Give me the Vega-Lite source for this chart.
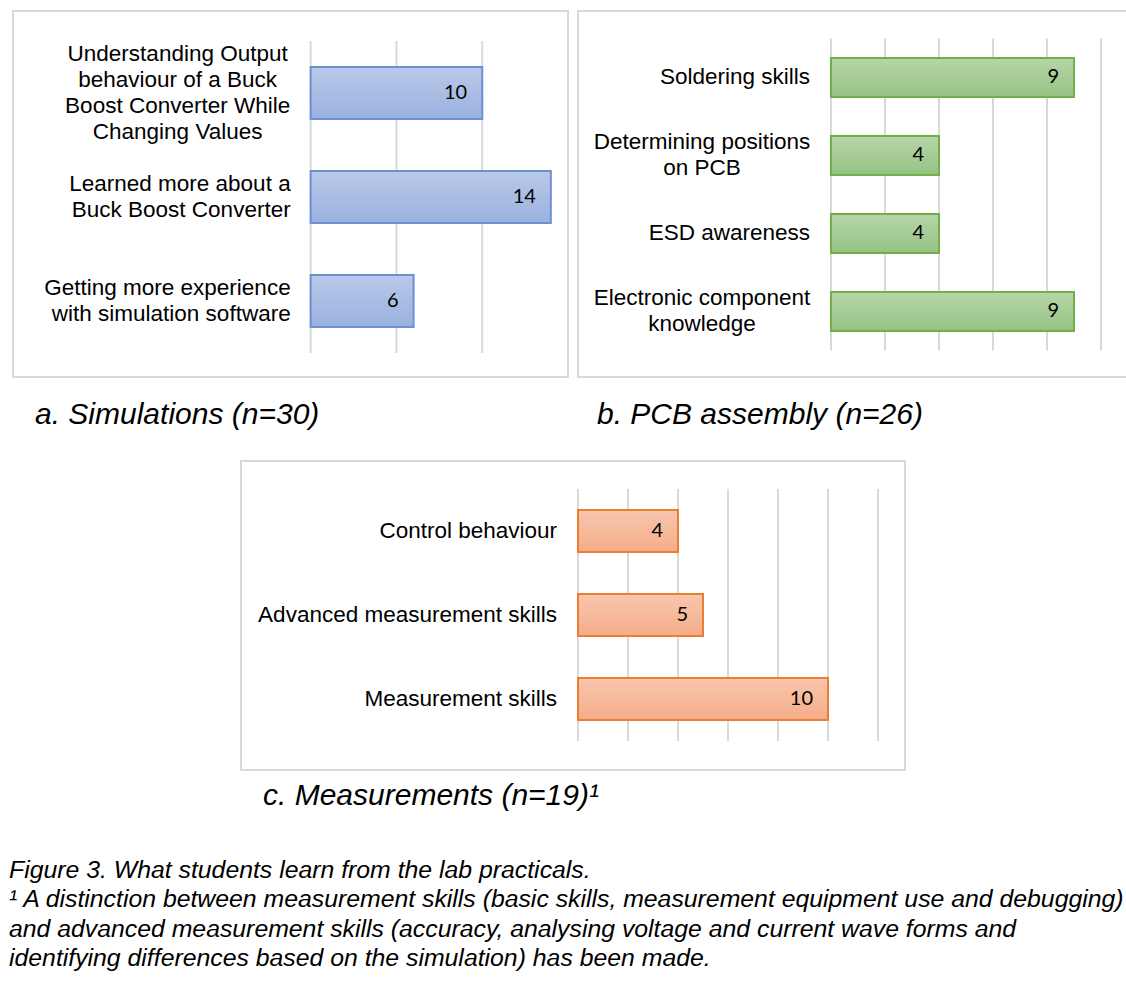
{
  "$schema": "https://vega.github.io/schema/vega-lite/v6.json",
  "padding": {"left": 9, "top": 10, "right": 0, "bottom": 6},
  "background": "white",
  "config": {
    "view": {"stroke": "#D9D9D9", "strokeWidth": 2},
    "font": "Liberation Sans",
    "title": {"color": "black", "fontWeight": "normal", "fontStyle": "italic", "font": "Liberation Sans"}
  },
  "title": {
    "text": [
      "Figure 3. What students learn from the lab practicals.",
      "¹ A distinction between measurement skills (basic skills, measurement equipment use and debugging)",
      "and advanced measurement skills (accuracy, analysing voltage and current wave forms and",
      "identifying differences based on the simulation) has been made."
    ],
    "orient": "bottom",
    "anchor": "start",
    "frame": "group",
    "baseline": "alphabetic",
    "offset": 66,
    "dx": -4,
    "fontSize": 24.8,
    "lineHeight": 29.3
  },
  "vconcat": [
    {
      "hconcat": [
        {
          "width": 555,
          "height": 366,
          "title": {"text": "a. Simulations (n=30)", "orient": "bottom", "anchor": "start", "frame": "group", "baseline": "alphabetic", "offset": 47, "dx": 22, "fontSize": 30},
          "data": {"values": [
            {"skill": "Understanding Output|behaviour of a Buck|Boost Converter While|Changing Values", "n": 10},
            {"skill": "Learned more about a|Buck Boost Converter", "n": 14},
            {"skill": "Getting more experience|with simulation software", "n": 6}
          ]},
          "encoding": {
            "y": {"field": "skill", "type": "nominal", "sort": null, "axis": null,
              "scale": {"domain": ["Understanding Output|behaviour of a Buck|Boost Converter While|Changing Values", "Learned more about a|Buck Boost Converter", "Getting more experience|with simulation software"], "paddingInner": 0.5, "paddingOuter": 0.51, "align": 0.528}}
          },
          "layer": [
            {
              "data": {"values": [{"tick": 0}, {"tick": 5}, {"tick": 10}, {"tick": 15}]},
              "mark": {"type": "rule", "color": "#D9D9D9", "strokeWidth": 2},
              "encoding": {
                "x": {"field": "tick", "type": "quantitative", "axis": null, "scale": {"domain": [-17.35, 15], "nice": false, "zero": false}},
                "y": {"datum": "Understanding Output|behaviour of a Buck|Boost Converter While|Changing Values", "type": "nominal", "bandPosition": -0.5},
                "y2": {"datum": "Getting more experience|with simulation software", "bandPosition": 1.5}
              }
            },
            {
              "mark": {"type": "bar", "stroke": "#6E90D2", "strokeWidth": 2,
                "fill": {"gradient": "linear", "x1": 0, "y1": 0, "x2": 0, "y2": 1, "stops": [{"offset": 0, "color": "#B9CAE9"}, {"offset": 1, "color": "#9AB1DF"}]}},
              "encoding": {"x": {"field": "n", "type": "quantitative", "axis": null, "scale": {"domain": [-17.35, 15], "nice": false, "zero": false}}}
            },
            {
              "transform": [{"filter": "length(split(datum.skill, '|')) == 4"}],
              "mark": {"type": "text", "align": "center", "baseline": "middle", "dx": -133, "dy": -39, "fontSize": 22.5, "lineHeight": 26, "lineBreak": "|", "color": "black", "font": "Liberation Sans"},
              "encoding": {"x": {"datum": 0, "type": "quantitative"}, "text": {"field": "skill"}}
            },
            {
              "transform": [{"filter": "length(split(datum.skill, '|')) == 2"}],
              "mark": {"type": "text", "align": "right", "baseline": "middle", "dx": -20, "dy": -13, "fontSize": 22.5, "lineHeight": 26, "lineBreak": "|", "color": "black", "font": "Liberation Sans"},
              "encoding": {"x": {"datum": 0, "type": "quantitative"}, "text": {"field": "skill"}}
            },
            {
              "mark": {"type": "text", "align": "right", "baseline": "middle", "dx": -15, "fontSize": 20, "font": "Lato", "color": "black"},
              "encoding": {"x": {"field": "n", "type": "quantitative"}, "text": {"field": "n"}}
            }
          ]
        },
        {
          "width": 555,
          "height": 366,
          "title": {"text": "b. PCB assembly (n=26)", "orient": "bottom", "anchor": "start", "frame": "group", "baseline": "alphabetic", "offset": 47, "dx": 19, "fontSize": 30},
          "data": {"values": [
            {"skill": "Soldering skills", "n": 9},
            {"skill": "Determining positions|on PCB", "n": 4},
            {"skill": "ESD awareness", "n": 4},
            {"skill": "Electronic component|knowledge", "n": 9}
          ]},
          "encoding": {
            "y": {"field": "skill", "type": "nominal", "sort": null, "axis": null,
              "scale": {"domain": ["Soldering skills", "Determining positions|on PCB", "ESD awareness", "Electronic component|knowledge"], "paddingInner": 0.5, "paddingOuter": 0.596, "align": 0.505}}
          },
          "layer": [
            {
              "data": {"values": [{"tick": 0}, {"tick": 2}, {"tick": 4}, {"tick": 6}, {"tick": 8}, {"tick": 10}]},
              "mark": {"type": "rule", "color": "#D9D9D9", "strokeWidth": 2},
              "encoding": {
                "x": {"field": "tick", "type": "quantitative", "axis": null, "scale": {"domain": [-9.37, 11.185], "nice": false, "zero": false}},
                "y": {"datum": "Soldering skills", "type": "nominal", "bandPosition": -0.5},
                "y2": {"datum": "Electronic component|knowledge", "bandPosition": 1.5}
              }
            },
            {
              "mark": {"type": "bar", "stroke": "#72AE4A", "strokeWidth": 2,
                "fill": {"gradient": "linear", "x1": 0, "y1": 0, "x2": 0, "y2": 1, "stops": [{"offset": 0, "color": "#B6D6A8"}, {"offset": 1, "color": "#95C383"}]}},
              "encoding": {"x": {"field": "n", "type": "quantitative", "axis": null, "scale": {"domain": [-9.37, 11.185], "nice": false, "zero": false}}}
            },
            {
              "transform": [{"filter": "indexof(datum.skill, '|') < 0"}],
              "mark": {"type": "text", "align": "right", "baseline": "middle", "dx": -21, "fontSize": 22.5, "color": "black", "font": "Liberation Sans"},
              "encoding": {"x": {"datum": 0, "type": "quantitative"}, "text": {"field": "skill"}}
            },
            {
              "transform": [{"filter": "indexof(datum.skill, '|') >= 0"}],
              "mark": {"type": "text", "align": "center", "baseline": "middle", "dx": -129, "dy": -13, "fontSize": 22.5, "lineHeight": 26, "lineBreak": "|", "color": "black", "font": "Liberation Sans"},
              "encoding": {"x": {"datum": 0, "type": "quantitative"}, "text": {"field": "skill"}}
            },
            {
              "mark": {"type": "text", "align": "right", "baseline": "middle", "dx": -15, "fontSize": 20, "font": "Lato", "color": "black"},
              "encoding": {"x": {"field": "n", "type": "quantitative"}, "text": {"field": "n"}}
            }
          ]
        }
      ],
      "spacing": 7
    },
    {
      "width": 664,
      "height": 309,
      "title": {"text": "c. Measurements (n=19)¹", "orient": "bottom", "anchor": "start", "frame": "group", "baseline": "alphabetic", "offset": 35, "dx": 22, "fontSize": 30},
      "data": {"values": [
        {"skill": "Control behaviour", "n": 4},
        {"skill": "Advanced measurement skills", "n": 5},
        {"skill": "Measurement skills", "n": 10}
      ]},
      "encoding": {
        "y": {"field": "skill", "type": "nominal", "sort": null, "axis": null,
          "scale": {"domain": ["Control behaviour", "Advanced measurement skills", "Measurement skills"], "paddingInner": 0.5, "paddingOuter": 0.589, "align": 0.495}}
      },
      "layer": [
        {
          "data": {"values": [{"tick": 0}, {"tick": 2}, {"tick": 4}, {"tick": 6}, {"tick": 8}, {"tick": 10}, {"tick": 12}]},
          "mark": {"type": "rule", "color": "#D9D9D9", "strokeWidth": 2},
          "encoding": {
            "x": {"field": "tick", "type": "quantitative", "axis": null, "scale": {"domain": [-13.48, 13.08], "nice": false, "zero": false}},
            "y": {"datum": "Control behaviour", "type": "nominal", "bandPosition": -0.5},
            "y2": {"datum": "Measurement skills", "bandPosition": 1.5}
          }
        },
        {
          "mark": {"type": "bar", "stroke": "#ED7D31", "strokeWidth": 2,
            "fill": {"gradient": "linear", "x1": 0, "y1": 0, "x2": 0, "y2": 1, "stops": [{"offset": 0, "color": "#F8C6AE"}, {"offset": 1, "color": "#F4AD88"}]}},
          "encoding": {"x": {"field": "n", "type": "quantitative", "axis": null, "scale": {"domain": [-13.48, 13.08], "nice": false, "zero": false}}}
        },
        {
          "mark": {"type": "text", "align": "right", "baseline": "middle", "dx": -21, "fontSize": 22.5, "color": "black", "font": "Liberation Sans"},
          "encoding": {"x": {"datum": 0, "type": "quantitative"}, "text": {"field": "skill"}}
        },
        {
          "mark": {"type": "text", "align": "right", "baseline": "middle", "dx": -15, "fontSize": 20, "font": "Lato", "color": "black"},
          "encoding": {"x": {"field": "n", "type": "quantitative"}, "text": {"field": "n"}}
        }
      ]
    }
  ],
  "spacing": 29,
  "center": true
}
